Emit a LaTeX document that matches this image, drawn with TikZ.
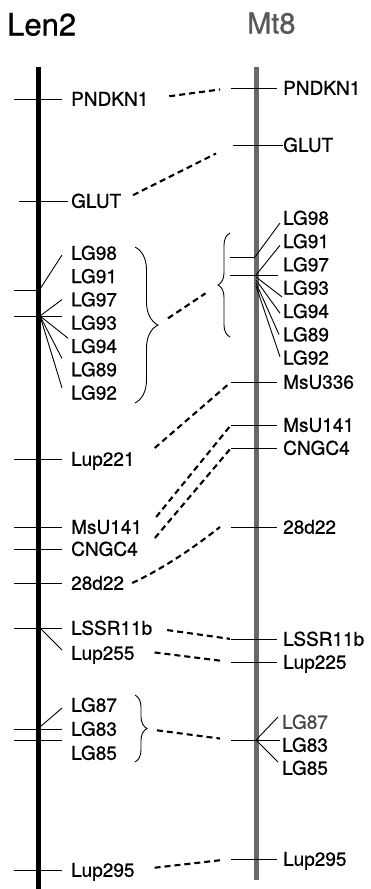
\documentclass[tikz,border=0pt]{standalone}
\usepackage{fontspec}
\setmainfont{TeX Gyre Heros}[FakeBold=0.8]
\usetikzlibrary{calc,decorations.pathreplacing}
\definecolor{mtgrey}{RGB}{105,105,105}
\definecolor{titlegrey}{RGB}{88,88,88}
\definecolor{fadedlab}{RGB}{70,70,70}

\begin{document}
\begin{tikzpicture}[x=1pt,y=-1pt,
    lab/.style={anchor=west,inner sep=0pt,text height=13.5pt,text depth=0pt,
      font=\fontsize{19}{21}\selectfont},
    tickline/.style={line width=0.9pt},
    link/.style={dash pattern=on 6pt off 4pt,line width=2.1pt},
    brc/.style={decorate,decoration={brace,amplitude=#1},line width=0.9pt}]
  \useasboundingbox (0,0) rectangle (370,889);
  % titles
  \node[anchor=base west,inner sep=0pt,font=\fontsize{31}{34}\selectfont] (Ltitle) at (7,35.5) {Len2};
  \node[anchor=base west,inner sep=0pt,font=\fontsize{29}{32}\selectfont,titlegrey] (Rtitle) at (247,33.5) {Mt8};
  % chromosomes
  \draw[line width=4.5pt] (38.5,67) -- (38.5,889);
  \draw[line width=5pt,mtgrey] (256,67) -- (256,880);
  % Len2: single markers
  \foreach \n/\y in {PNDKN1/99,Lup221/459,MsU141/527,CNGC4/549,28d22/583,LSSR11b/628,Lup295/870} {
    \node[lab] (L-\n) at (71,\y) {\n};
    \draw[tickline] (14,\y) -- (62,\y);
  }
  \node[lab] (L-GLUT) at (71,201) {GLUT};
  \draw[tickline] (19,201) -- (68,201);
  \node[lab] (L-Lup255) at (71,653) {Lup255};
  \draw[tickline] (40,628) -- ($(L-Lup255.west)+(-9,-3)$);
  % Mt8: single markers
  \foreach \n/\y in {PNDKN1/88,MsU336/382,MsU141/425,CNGC4/448,28d22/527,LSSR11b/639,Lup225/662,Lup295/859} {
    \node[lab] (R-\n) at (283,\y) {\n};
    \coordinate (R-\n-t) at (231,\y);
    \draw[tickline] (R-\n-t) -- (277,\y);
  }
  \node[lab] (R-GLUT) at (283,145) {GLUT};
  \coordinate (R-GLUT-t) at (233,145);
  \draw[tickline] (R-GLUT-t) -- (R-GLUT.west);
  % LG cluster on Len2
  \foreach \n [count=\i from 0] in {98,91,97,93,94,89,92}
    \node[lab] (LL\n) at (71,253+23.3*\i) {LG\n};
  \draw[tickline] (14,290.5) -- (40,290.5);
  \draw[tickline] (14,316) -- (62,316);
  \coordinate (LLa) at (40,289);
  \coordinate (LLb) at (40,316);
  \draw[tickline] (LLa) -- ($(LL98.west)+(-9,2)$);
  \draw[tickline] (LLb) -- ($(LL97.west)+(-9,0)$);
  \draw[tickline] (LLb) -- ($(LL94.west)+(-3,-8)$);
  \draw[tickline] (LLb) -- ($(LL89.west)+(-9,-11)$);
  \draw[tickline] (LLb) -- ($(LL92.west)+(-9,-5)$);
  \draw[brc=23] (135,247) -- (135,403);
  \coordinate (LLtip) at (158,325);
  % LG cluster on Mt8
  \foreach \n [count=\i from 0] in {98,91,97,93,94,89,92}
    \node[lab] (RL\n) at (283,218+23.3*\i) {LG\n};
  \draw[tickline] (230,257.3) -- (255,257.3);
  \draw[tickline] (230,275) -- (278,275);
  \draw[tickline] (255,257) -- ($(RL98.west)+(-3,5)$);
  \draw[tickline] (256,275) -- ($(RL91.west)+(-3,4)$);
  \draw[tickline] (256,277) -- ($(RL93.west)+(-1,9)$);
  \draw[tickline] (256,280) -- ($(RL94.west)+(-3,2)$);
  \draw[tickline] (256,283) -- ($(RL89.west)+(-4,0)$);
  \draw[tickline] (256,286) -- ($(RL92.west)+(-3,-1)$);
  \draw[brc=12] (230,337) -- (230,233);
  \coordinate (RLtip) at (218,285);
  % LG87 cluster on Len2
  \foreach \n [count=\i from 0] in {87,83,85}
    \node[lab] (LK\n) at (71,705+24*\i) {LG\n};
  \draw[tickline] (14,729) -- (62,729);
  \draw[tickline] (14,740) -- (62,740);
  \draw[tickline] (40,727) -- ($(LK87.west)+(-9,3)$);
  \draw[brc=12] (135,695) -- (135,762);
  \coordinate (LKtip) at (147,729);
  % LG87 cluster on Mt8
  \node[lab,fadedlab] (RK87) at (282,722) {LG87};
  \node[lab] (RK83) at (282,745) {LG83};
  \node[lab] (RK85) at (282,768) {LG85};
  \coordinate (RK-t) at (231,740);
  \draw[tickline] (RK-t) -- (280,740);
  \draw[tickline] (256,740) -- ($(RK87.west)+(-4,-5)$);
  \draw[tickline] (256,740) -- ($(RK85.west)+(-4,-6)$);
  % dashed links between the maps
  \draw[link,shorten <=21pt,shorten >=11pt] (L-PNDKN1.east) -- (R-PNDKN1-t);
  \draw[link,shorten <=13pt,shorten >=19pt] (L-GLUT.east) -- (R-GLUT-t);
  \draw[link,shorten <=12pt,shorten >=15pt] (LLtip) -- (RLtip);
  \draw[link,shorten >=1pt] ($(L-Lup221.east)+(20,-11)$) -- (R-MsU336-t);
  \draw[link,shorten >=1pt] ($(L-MsU141.east)+(14,-10)$) -- (R-MsU141-t);
  \draw[link,shorten >=1pt] ($(L-CNGC4.east)+(17,-11)$) -- (R-CNGC4-t);
  \draw[link] ($(L-28d22.east)+(8,0)$) .. controls +(30,-14) and +(-28,22) .. ($(R-28d22-t)+(-11,0)$);
  \draw[link,shorten <=15pt,shorten >=1pt] (L-LSSR11b.east) -- (R-LSSR11b-t);
  \draw[link,shorten <=20pt,shorten >=11pt] ($(L-Lup255.east)+(0,-3)$) -- (R-Lup225-t);
  \draw[link,shorten <=10pt,shorten >=11pt] (LKtip) -- (RK-t);
  \draw[link,shorten <=20pt,shorten >=11pt] (L-Lup295.east) -- (R-Lup295-t);
\end{tikzpicture}
\end{document}
